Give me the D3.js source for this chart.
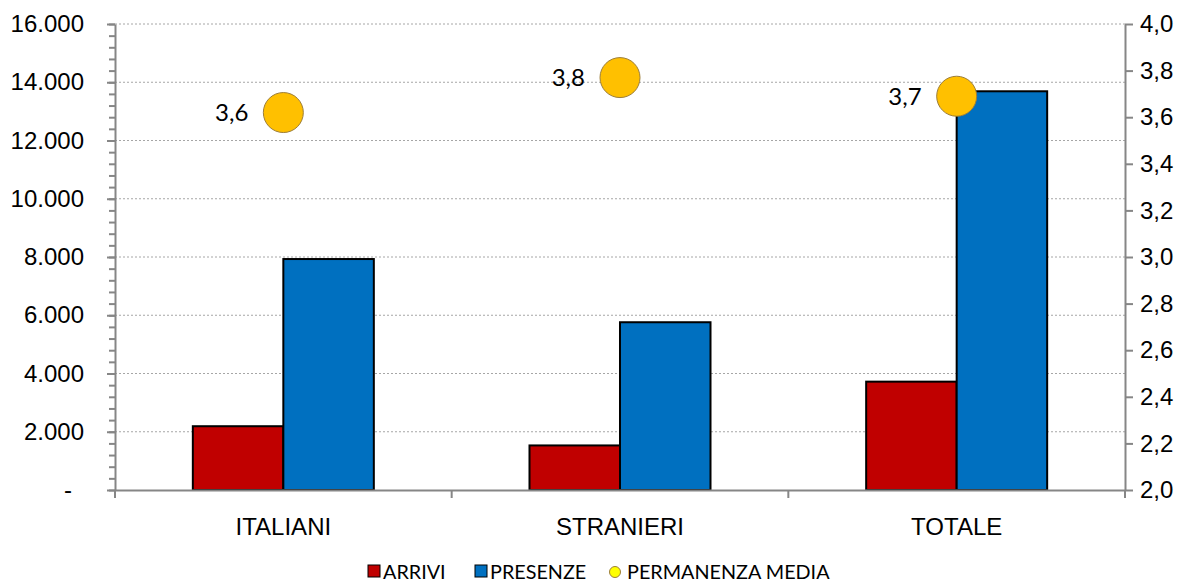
<!DOCTYPE html>
<html>
<head>
<meta charset="utf-8">
<script src="https://cdn.jsdelivr.net/npm/d3@7"></script>
<style>
  body { margin: 0; background: #fff; }
  svg { font-family: Lato, "Open Sans", sans-serif; }
  .axis path, .axis line { stroke: #868686; stroke-width: 2; }
  .axis text { fill: #000; font-size: 24px; }
  .grid line { stroke: #a6a6a6; stroke-width: 1; stroke-dasharray: 2,2; }
</style>
</head>
<body>
<svg id="chart" width="1188" height="585"></svg>
<script>
var categories = ["ITALIANI", "STRANIERI", "TOTALE"];
var arrivi = [2190, 1530, 3720];
var presenze = [7930, 5760, 13690];
var permanenza = [3.62, 3.77, 3.69];
var leftTicks = [0, 2000, 4000, 6000, 8000, 10000, 12000, 14000, 16000];
var rightTicks = [2.0, 2.2, 2.4, 2.6, 2.8, 3.0, 3.2, 3.4, 3.6, 3.8, 4.0];
var seriesNames = ["ARRIVI", "PRESENZE", "PERMANENZA MEDIA"];

var colors = { arrivi: "#C00000", presenze: "#0070C0", dot: "#FFC000" };
var margin = { left: 115, right: 63, top: 24, bottom: 95 };
var W = 1188, H = 585;

var svg = d3.select("#chart");

var x = d3.scaleBand()
    .domain(categories)
    .range([margin.left, W - margin.right]);

var x1 = d3.scaleBand()
    .domain(["arrivi", "presenze"])
    .range([0, x.bandwidth()])
    .paddingOuter(0.86);

var y = d3.scaleLinear()
    .domain([0, 16000])
    .range([H - margin.bottom, margin.top]);

var y2 = d3.scaleLinear()
    .domain([2.0, 4.0])
    .range([H - margin.bottom, margin.top]);

var itFmt = d3.formatLocale({ decimal: ",", thousands: ".", grouping: [3], currency: ["€", ""] });
var fmtInt = itFmt.format(",.0f");
var fmtDec = itFmt.format(".1f");

// gridlines
svg.append("g")
    .attr("class", "grid")
    .selectAll("line")
    .data(leftTicks.slice(1))
  .enter().append("line")
    .attr("x1", margin.left)
    .attr("x2", W - margin.right)
    .attr("y1", function(d) { return y(d); })
    .attr("y2", function(d) { return y(d); });

// bars
var groups = svg.append("g")
    .selectAll("g")
    .data(categories)
  .enter().append("g")
    .attr("transform", function(d) { return "translate(" + x(d) + ",0)"; });

groups.append("rect")
    .attr("x", x1("arrivi"))
    .attr("width", x1.bandwidth())
    .attr("y", function(d, i) { return y(arrivi[i]); })
    .attr("height", function(d, i) { return y(0) - y(arrivi[i]); })
    .attr("fill", colors.arrivi)
    .attr("stroke", "#000")
    .attr("stroke-width", 2);

groups.append("rect")
    .attr("x", x1("presenze"))
    .attr("width", x1.bandwidth())
    .attr("y", function(d, i) { return y(presenze[i]); })
    .attr("height", function(d, i) { return y(0) - y(presenze[i]); })
    .attr("fill", colors.presenze)
    .attr("stroke", "#000")
    .attr("stroke-width", 2);

// left minor ticks
svg.append("g")
    .attr("class", "axis")
    .attr("transform", "translate(" + margin.left + ",0)")
    .call(d3.axisLeft(y).tickValues(d3.range(0, 16001, 400)).tickSize(6).tickFormat(""))
    .call(function(g) { g.select(".domain").remove(); });

// left axis
var yAxisL = svg.append("g")
    .attr("class", "axis")
    .attr("transform", "translate(" + margin.left + ",0)")
    .call(d3.axisLeft(y).tickValues(leftTicks).tickSize(8).tickSizeOuter(0).tickPadding(23)
        .tickFormat(function(d) { return d === 0 ? "-" : fmtInt(d); }));
yAxisL.selectAll(".tick text").filter(function(d) { return d === 0; }).attr("dx", -12);

// right axis
svg.append("g")
    .attr("class", "axis")
    .attr("transform", "translate(" + (W - margin.right) + ",0)")
    .call(d3.axisRight(y2).tickValues(rightTicks).tickSize(8).tickSizeOuter(0).tickPadding(7)
        .tickFormat(fmtDec));

// bottom axis
var xAxis = svg.append("g")
    .attr("class", "axis")
    .attr("transform", "translate(0," + y(0) + ")")
    .call(d3.axisBottom(x).tickSize(0).tickPadding(28));
xAxis.selectAll(".sep")
    .data(d3.range(categories.length + 1))
  .enter().append("line")
    .attr("x1", function(i) { return margin.left + i * x.step(); })
    .attr("x2", function(i) { return margin.left + i * x.step(); })
    .attr("y1", 0)
    .attr("y2", 8);

// permanenza dots
var dots = svg.append("g");
dots.selectAll("circle")
    .data(categories)
  .enter().append("circle")
    .attr("cx", function(d) { return x(d) + x.bandwidth() / 2; })
    .attr("cy", function(d, i) { return y2(permanenza[i]); })
    .attr("r", 20)
    .attr("fill", colors.dot)
    .attr("stroke", "#9c7e3a")
    .attr("stroke-width", 1);

dots.selectAll("text")
    .data(categories)
  .enter().append("text")
    .attr("x", function(d) { return x(d) + x.bandwidth() / 2 - 35; })
    .attr("y", function(d, i) { return y2(permanenza[i]); })
    .attr("dy", "0.35em")
    .attr("text-anchor", "end")
    .attr("font-size", "24px")
    .text(function(d, i) { return fmtDec(permanenza[i]); });

// legend
var legend = svg.append("g").attr("font-size", "19.8px");
var legendX = [368, 475, 609];
var legendItems = legend.selectAll("g")
    .data(seriesNames)
  .enter().append("g")
    .attr("transform", function(d, i) { return "translate(" + legendX[i] + ",0)"; });

legendItems.each(function(d, i) {
    var g = d3.select(this);
    if (i < 2) {
        g.append("rect")
            .attr("x", 0).attr("y", 565).attr("width", 12).attr("height", 12)
            .attr("fill", i === 0 ? colors.arrivi : colors.presenze)
            .attr("stroke", "#000").attr("stroke-width", 1);
    } else {
        g.append("circle")
            .attr("cx", 6).attr("cy", 572).attr("r", 5.5)
            .attr("fill", "#FFFF00")
            .attr("stroke", "#9c7e3a").attr("stroke-width", 1);
    }
    g.append("text")
        .attr("x", i < 2 ? 15 : 18)
        .attr("y", 579)
        .text(d);
});
</script>
</body>
</html>
